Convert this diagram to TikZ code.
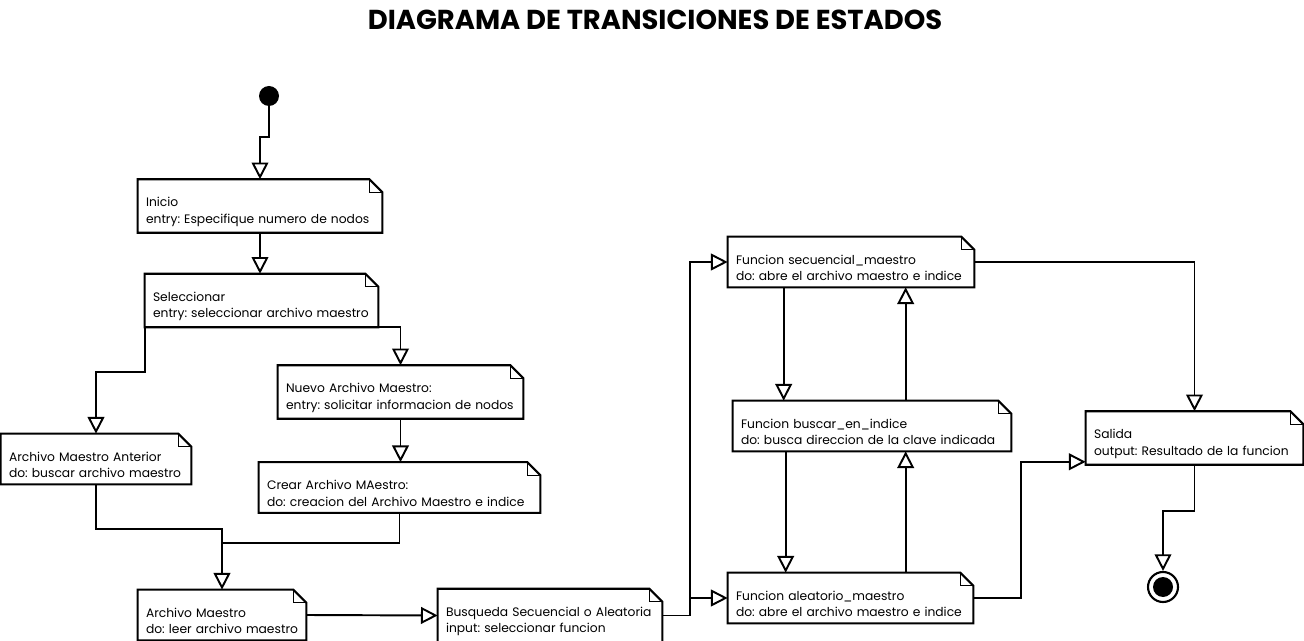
\documentclass[tikz,border=0pt]{standalone}
\usepackage{fontspec}
\setmainfont{Poppins}
\usepackage{tikz}
\usetikzlibrary{shapes, shapes.geometric, arrows, arrows.meta, calc}

\newcommand{\dosLineas}[2]{\mbox{\rule{0pt}{12pt}#1}\\\mbox{#2}}

\tikzstyle{estado} = [
    rectangle,
    minimum height = 1cm,
    inner xsep = 0.16cm,
    align = left,
    font = \fontsize{7}{9.6}\selectfont\frenchspacing,
    append after command = {
        \pgfextra{
            \draw[line width = 1.2pt] (\tikzlastnode.north west) -- ($(\tikzlastnode.north east)+(-0.26cm,0cm)$) -- ($(\tikzlastnode.north east)+(0cm,-0.26cm)$) -- (\tikzlastnode.south east) -- (\tikzlastnode.south west) -- cycle;
            \draw[line width = 0.5pt] ($(\tikzlastnode.north east)+(-0.26cm,0cm)$) |- ($(\tikzlastnode.north east)+(0cm,-0.26cm)$);
        }
    }
]
\tikzstyle{inicial} = [circle, fill = black, minimum size = 0.4cm, inner sep = 0pt]
\tikzstyle{final} = [
    circle,
    draw = black,
    line width = 1.2pt,
    minimum size = 0.6cm,
    inner sep = 0pt,
    path picture = {\fill (path picture bounding box.center) circle (0.2cm);}
]
\tikzstyle{linea} = [line width = 1.1pt]
\tikzstyle{flecha} = [line width = 1.1pt, -{Triangle[open, length = 9.5pt, width = 9.5pt]}]

\begin{document}
\begin{tikzpicture} [x = 0.02cm, y = -0.02cm]
    \useasboundingbox (0,0) rectangle (1304,641);

    \node (Titulo) at (655,20) {\fontsize{15.6}{16}\selectfont\bfseries DIAGRAMA DE TRANSICIONES DE ESTADOS};

    \node (Comienzo) [inicial] at (269,96) {};
    \node (Inicio) [estado, text width = 4.56cm] at (260,206) {\dosLineas{Inicio}{entry: Especifique numero de nodos}};
    \node (Seleccionar) [estado, text width = 4.34cm] at (261.5,300.5) {\dosLineas{Seleccionar}{entry: seleccionar archivo maestro}};
    \node (Nuevo) [estado, text width = 4.58cm] at (400.5,392) {\dosLineas{Nuevo Archivo Maestro:}{entry: solicitar informacion de nodos}};
    \node (Anterior) [estado, text width = 3.48cm] at (96,459) {\dosLineas{Archivo Maestro Anterior}{do: buscar archivo maestro}};
    \node (Crear) [estado, text width = 5.30cm] at (399.5,487.5) {\dosLineas{Crear Archivo MAestro:}{do: creacion del Archivo Maestro e indice}};
    \node (Maestro) [estado, text width = 3.04cm] at (222,615) {\dosLineas{Archivo Maestro}{do: leer archivo maestro}};
    \node (Busqueda) [estado, text width = 4.16cm] at (550,615.5) {\dosLineas{Busqueda Secuencial o Aleatoria}{input: seleccionar funcion}};

    \node (Secuencial) [estado, text width = 4.60cm] at (851,262) {\dosLineas{Funcion secuencial\_maestro}{do: abre el archivo maestro e indice}};
    \node (Buscar) [estado, text width = 5.24cm] at (872,426) {\dosLineas{Funcion buscar\_en\_indice}{do: busca direccion de la clave indicada}};
    \node (Aleatorio) [estado, text width = 4.58cm] at (850.5,598) {\dosLineas{Funcion aleatorio\_maestro}{do: abre el archivo maestro e indice}};
    \node (Salida) [estado, text width = 4.02cm] at (1194.5,438) {\dosLineas{Salida}{output: Resultado de la funcion}};
    \node (Final) [final] at (1163,587) {};

    % lado izquierdo
    \draw[flecha] (Comienzo.south) -- ++(0,31) -| (Inicio.north);
    \draw[flecha] (Inicio.south) -- (Inicio.south |- Seleccionar.north);
    \draw[flecha] (Seleccionar.south west) -- ++(0,45) -| (Anterior.north);
    \draw[flecha] (Seleccionar.south east) -| (Nuevo.north);
    \draw[flecha] (Nuevo.south) -- (Nuevo.south |- Crear.north);
    \draw[flecha] (Anterior.south) -- ++(0,45) -| (Maestro.north);
    \draw[linea] (Crear.south) |- ($(Maestro.north)+(0,-47)$);
    \draw[flecha] (Maestro.east) -- (Busqueda.west);

    % funciones
    \coordinate (Bifurcacion) at ($(Busqueda.east)+(28,0)$);
    \draw[linea] (Busqueda.east) -- (Bifurcacion);
    \draw[flecha] (Bifurcacion) |- (Secuencial.west);
    \draw[flecha] (Bifurcacion) |- (Aleatorio.west);

    \coordinate (BajaSec) at ($(Secuencial.south west)+(56,0)$);
    \coordinate (SubeSec) at ($(Secuencial.south west)+(178,0)$);
    \coordinate (BajaBus) at ($(Buscar.south west)+(53,0)$);
    \coordinate (SubeAle) at ($(Aleatorio.north west)+(178,0)$);
    \draw[flecha] (BajaSec) -- (BajaSec |- Buscar.north);
    \draw[flecha] (SubeSec |- Buscar.north) -- (SubeSec);
    \draw[flecha] (BajaBus) -- (BajaBus |- Aleatorio.north);
    \draw[flecha] (SubeAle) -- (SubeAle |- Buscar.south);

    % salida
    \coordinate (EntradaSalida) at ($(Salida.south west)+(0,-3)$);
    \draw[flecha] (Secuencial.east) -| (Salida.north);
    \draw[flecha] (Aleatorio.east) -- ++(48,0) |- (EntradaSalida);
    \draw[flecha] (Salida.south) -- ++(0,46) -| (Final.north);
\end{tikzpicture}
\end{document}
